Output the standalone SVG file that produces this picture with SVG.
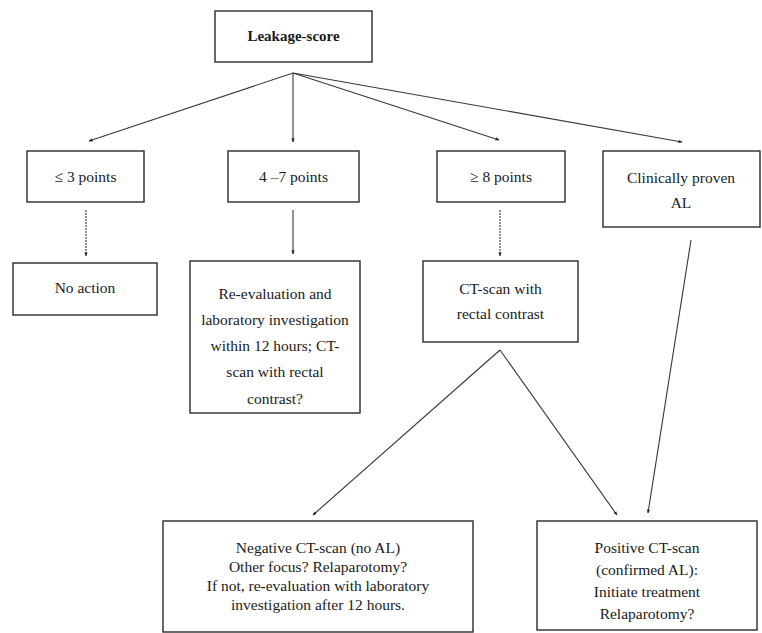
<svg xmlns="http://www.w3.org/2000/svg" width="762" height="633" viewBox="0 0 762 633">
  <defs>
    <marker id="ah" viewBox="0 0 10 10" refX="9" refY="5" markerWidth="4" markerHeight="4" orient="auto" markerUnits="userSpaceOnUse">
      <path d="M0,1 L10,5 L0,9 z" fill="#222"/>
    </marker>
    <style>
      .box { fill: #ffffff; stroke: #2a2a2a; stroke-width: 1.4; }
      .t { font-family: "Liberation Serif", "Times New Roman", serif; font-size: 15.5px; fill: #1a1a1a; text-anchor: middle; }
      .tb { font-weight: bold; font-size: 15px; }
      .c { fill: none; stroke: #383838; stroke-width: 1.1; marker-end: url(#ah); }
      .d { stroke-dasharray: 2 1; }
    </style>
  </defs>
  <rect x="0" y="0" width="762" height="633" fill="#ffffff"/>

  <g id="connectors">
    <line class="c" x1="293" y1="73" x2="89" y2="141"/>
    <line class="c" x1="293" y1="73" x2="293" y2="142"/>
    <line class="c" x1="293" y1="73" x2="499" y2="140"/>
    <line class="c" x1="293" y1="73" x2="682" y2="142"/>
    <line class="c d" x1="86" y1="210" x2="86" y2="256"/>
    <line class="c" x1="293" y1="210" x2="293" y2="254"/>
    <line class="c d" x1="500" y1="210" x2="500" y2="256"/>
    <line class="c" x1="500" y1="350" x2="313" y2="515"/>
    <line class="c" x1="500" y1="350" x2="617" y2="515"/>
    <line class="c" x1="691" y1="240" x2="648" y2="513"/>
  </g>

  <g id="leakage">
    <rect class="box" x="215" y="11" width="157" height="51"/>
    <text class="t tb" x="293.5" y="41">Leakage-score</text>
  </g>

  <g id="le3">
    <rect class="box" x="27" y="151" width="117" height="51"/>
    <text class="t" x="85.5" y="182">≤ 3 points</text>
  </g>

  <g id="p4to7">
    <rect class="box" x="228" y="151" width="131" height="51"/>
    <text class="t" x="293.5" y="182">4 –7 points</text>
  </g>

  <g id="ge8">
    <rect class="box" x="437" y="151" width="128" height="51"/>
    <text class="t" x="501" y="182">≥ 8 points</text>
  </g>

  <g id="clinical">
    <rect class="box" x="603" y="151" width="157" height="76"/>
    <text class="t" x="681" y="183">Clinically proven</text>
    <text class="t" x="681" y="208">AL</text>
  </g>

  <g id="noaction">
    <rect class="box" x="13" y="263" width="144" height="52"/>
    <text class="t" x="85" y="293">No action</text>
  </g>

  <g id="reeval">
    <rect class="box" x="190" y="261" width="170" height="152"/>
    <text class="t" x="275" y="299">Re-evaluation and</text>
    <text class="t" x="275" y="325">laboratory investigation</text>
    <text class="t" x="275" y="351">within 12 hours; CT-</text>
    <text class="t" x="275" y="377">scan with rectal</text>
    <text class="t" x="275" y="404">contrast?</text>
  </g>

  <g id="ctscan">
    <rect class="box" x="423" y="261" width="155" height="81"/>
    <text class="t" x="500.5" y="294">CT-scan with</text>
    <text class="t" x="500.5" y="319">rectal contrast</text>
  </g>

  <g id="negative">
    <rect class="box" x="163" y="521" width="310" height="111"/>
    <text class="t" x="318" y="553">Negative CT-scan (no AL)</text>
    <text class="t" x="318" y="572">Other focus?  Relaparotomy?</text>
    <text class="t" x="318" y="591">If not, re-evaluation with laboratory</text>
    <text class="t" x="318" y="610">investigation after 12 hours.</text>
  </g>

  <g id="positive">
    <rect class="box" x="537" y="521" width="220" height="109"/>
    <text class="t" x="647" y="553">Positive CT-scan</text>
    <text class="t" x="647" y="575">(confirmed AL):</text>
    <text class="t" x="647" y="597">Initiate treatment</text>
    <text class="t" x="647" y="619">Relaparotomy?</text>
  </g>
</svg>
